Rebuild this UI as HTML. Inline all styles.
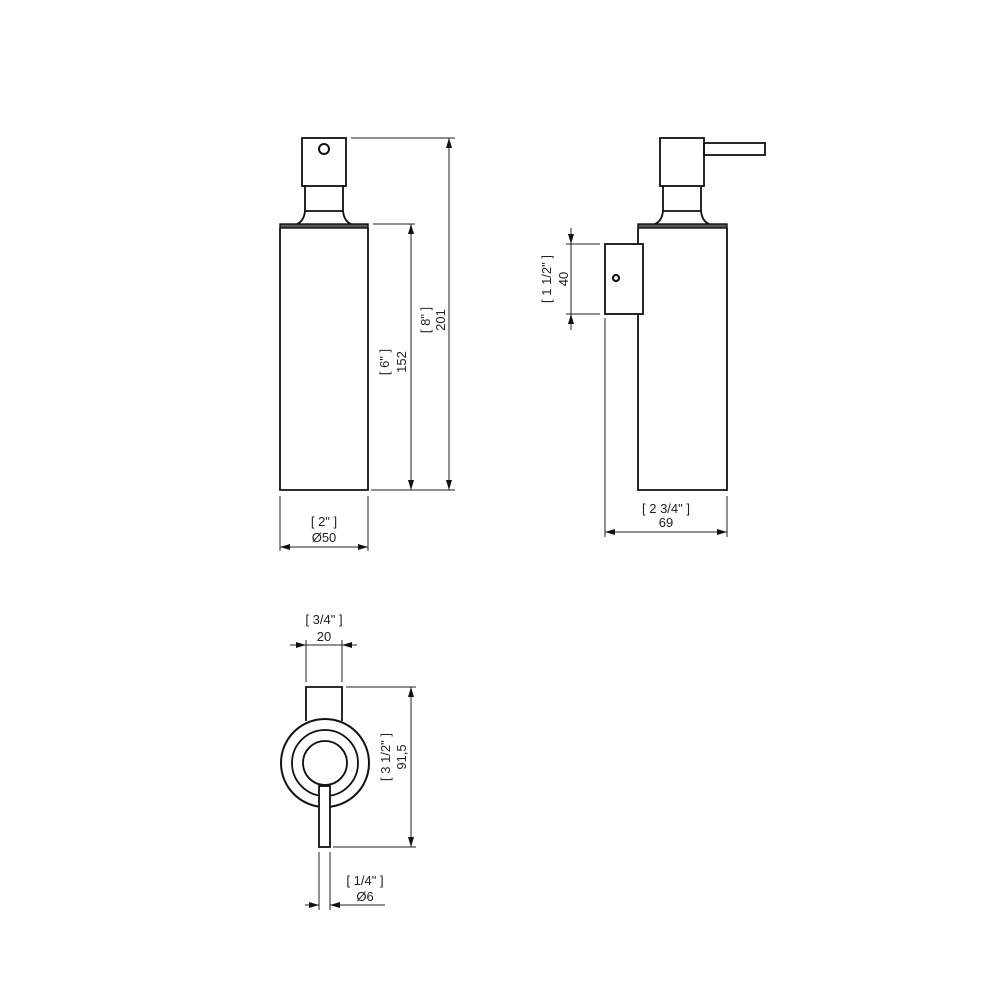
<!DOCTYPE html>
<html><head><meta charset="utf-8"><style>
html,body{margin:0;padding:0;background:#fff}
svg{display:block}
text{font-family:"Liberation Sans",sans-serif;font-size:13px;fill:#222}
</style></head><body>
<svg width="990" height="990" viewBox="0 0 990 990" xmlns="http://www.w3.org/2000/svg">
<defs>
<marker id="a" viewBox="0 0 10 6" refX="10" refY="3" markerWidth="10" markerHeight="6" orient="auto-start-reverse" markerUnits="userSpaceOnUse">
<path d="M0,0 L10,3 L0,6 z" fill="#111"/></marker>
</defs>
<g fill="none" stroke="#111" stroke-width="1.8">
<rect x="302" y="138" width="44" height="48"/>
<circle cx="324" cy="149" r="5" stroke-width="2"/>
<path d="M305,186 V211 M343,186 V211 M305,211 H343"/>
<path d="M305,211 Q304,221 297,224 M343,211 Q344,221 351,224"/>
<rect x="280" y="224" width="88" height="4" fill="#555" stroke-width="1.4"/>
<path d="M280,228 V490 H368 V228"/>
</g>
<g fill="none" stroke="#222" stroke-width="1">
<path d="M351,138 H455 M373,224 H415 M371,490 H455"/>
<path d="M449,138 V490" marker-start="url(#a)" marker-end="url(#a)"/>
<path d="M411,224 V490" marker-start="url(#a)" marker-end="url(#a)"/>
<path d="M280,496 V551 M368,496 V551"/>
<path d="M280,547 H368" marker-start="url(#a)" marker-end="url(#a)"/>
</g>
<text transform="translate(389,362) rotate(-90)" text-anchor="middle">[ 6" ]</text>
<text transform="translate(406,362) rotate(-90)" text-anchor="middle">152</text>
<text transform="translate(430,320) rotate(-90)" text-anchor="middle">[ 8" ]</text>
<text transform="translate(445,320) rotate(-90)" text-anchor="middle">201</text>
<text x="324" y="526" text-anchor="middle">[ 2" ]</text>
<text x="324" y="542" text-anchor="middle">Ø50</text>

<g fill="none" stroke="#111" stroke-width="1.8">
<rect x="660" y="138" width="44" height="48"/>
<rect x="704" y="143" width="61" height="12"/>
<path d="M663,186 V211 M701,186 V211 M663,211 H701"/>
<path d="M663,211 Q662,221 655,224 M701,211 Q702,221 709,224"/>
<rect x="638" y="224" width="89" height="4" fill="#555" stroke-width="1.4"/>
<path d="M638,228 V490 H727 V228"/>
<rect x="605" y="244" width="38" height="70" fill="#fff"/>
<circle cx="616" cy="278" r="3" stroke-width="2.2"/>
</g>
<g fill="none" stroke="#222" stroke-width="1">
<path d="M566,244 H600 M566,314 H600"/>
<path d="M571,228 V244" marker-end="url(#a)"/>
<path d="M571,330 V314" marker-end="url(#a)"/>
<path d="M571,244 V314"/>
<path d="M605,318 V537 M727,496 V537"/>
<path d="M605,532 H727" marker-start="url(#a)" marker-end="url(#a)"/>
</g>
<text transform="translate(551,279) rotate(-90)" text-anchor="middle">[ 1 1/2" ]</text>
<text transform="translate(568,279) rotate(-90)" text-anchor="middle">40</text>
<text x="666" y="513" text-anchor="middle">[ 2 3/4" ]</text>
<text x="666" y="527" text-anchor="middle">69</text>

<g fill="none" stroke="#111" stroke-width="1.8">
<path d="M306,721 V687 H342 V721"/>
<circle cx="325" cy="763" r="44" stroke-width="2"/>
<circle cx="325" cy="763" r="33"/>
<circle cx="325" cy="763" r="22" stroke-width="1.8"/>
<rect x="319" y="786" width="11" height="61" fill="#fff"/>
</g>
<g fill="none" stroke="#222" stroke-width="1">
<path d="M306,640 V682 M342,640 V682"/>
<path d="M290,645 H306" marker-end="url(#a)"/>
<path d="M357,645 H342" marker-end="url(#a)"/>
<path d="M306,645 H342"/>
<path d="M346,687 H416 M333,847 H416"/>
<path d="M411,687 V847" marker-start="url(#a)" marker-end="url(#a)"/>
<path d="M319,852 V910 M330,852 V910"/>
<path d="M305,905 H319" marker-end="url(#a)"/>
<path d="M385,905 H330" marker-end="url(#a)"/>
</g>
<text x="324" y="624" text-anchor="middle">[ 3/4" ]</text>
<text x="324" y="641" text-anchor="middle">20</text>
<text transform="translate(390,757) rotate(-90)" text-anchor="middle">[ 3 1/2" ]</text>
<text transform="translate(406,757) rotate(-90)" text-anchor="middle">91,5</text>
<text x="365" y="885" text-anchor="middle">[ 1/4" ]</text>
<text x="365" y="901" text-anchor="middle">Ø6</text>
</svg>
</body></html>
